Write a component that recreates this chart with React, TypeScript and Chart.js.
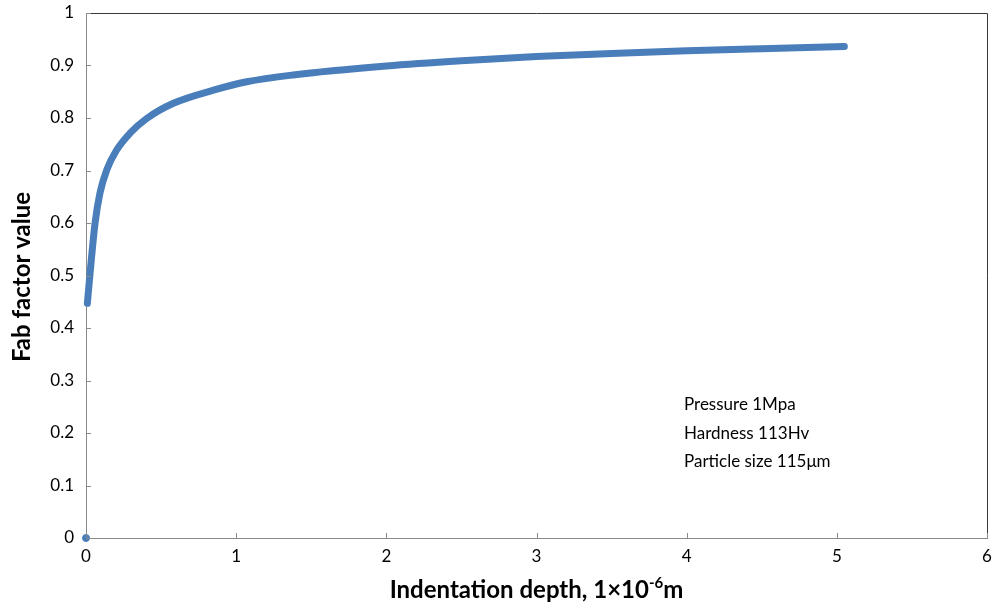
import React, { useEffect, useRef } from 'react';
import { Chart, registerables } from 'chart.js';
Chart.register(...registerables);

const depthValues = [0.009, 0.027, 0.06, 0.093, 0.138, 0.204, 0.293, 0.404, 0.582, 0.849, 1.07, 1.38, 2.0, 2.5, 3.0, 3.5, 4.0, 4.5, 5.05];
const fabValues = [0.447, 0.504, 0.599, 0.657, 0.701, 0.739, 0.771, 0.799, 0.828, 0.853, 0.869, 0.882, 0.899, 0.909, 0.917, 0.923, 0.928, 0.932, 0.936];
const originDepth = [0];
const originFab = [0];
const xTickValues = [0, 1, 2, 3, 4, 5, 6];
const yTickValues = [0, 0.1, 0.2, 0.3, 0.4, 0.5, 0.6, 0.7, 0.8, 0.9, 1];
const noteLines = ['Pressure 1Mpa', 'Hardness 113Hv', 'Particle size 115μm'];
const yTitle = 'Fab factor value';
const xTitleMain = 'Indentation depth, 1×10';
const xTitleSup = '-6';
const xTitleEnd = 'm';

const FONT = 'Lato, "Open Sans", sans-serif';

const decorPlugin = {
  id: 'decor',
  afterDraw(chart: any) {
    const { ctx, chartArea: a, scales } = chart;
    const xs = scales.x, ys = scales.y;
    ctx.save();
    ctx.strokeStyle = '#3a3a3a';
    ctx.lineWidth = 1;
    ctx.beginPath();
    ctx.moveTo(a.left, a.top + 0.5);
    ctx.lineTo(a.right + 0.5, a.top + 0.5);
    ctx.lineTo(a.right + 0.5, a.bottom);
    ctx.stroke();
    ctx.strokeStyle = '#8a8a8a';
    ctx.beginPath();
    xTickValues.forEach((v) => {
      const px = Math.round(xs.getPixelForValue(v)) + 0.5;
      ctx.moveTo(px, a.bottom);
      ctx.lineTo(px, a.bottom - 5);
    });
    yTickValues.forEach((v) => {
      const py = Math.round(ys.getPixelForValue(v)) + 0.5;
      ctx.moveTo(a.left, py);
      ctx.lineTo(a.left + 5, py);
    });
    ctx.stroke();
    ctx.fillStyle = '#000';
    ctx.font = `bold 24px ${FONT}`;
    ctx.textAlign = 'center';
    ctx.textBaseline = 'middle';
    ctx.save();
    ctx.translate(22, 277);
    ctx.rotate(-Math.PI / 2);
    ctx.fillText(yTitle, 0, 0);
    ctx.restore();
    ctx.textAlign = 'left';
    ctx.textBaseline = 'alphabetic';
    ctx.font = `bold 24px ${FONT}`;
    const w1 = ctx.measureText(xTitleMain).width;
    const w3 = ctx.measureText(xTitleEnd).width;
    ctx.font = `bold 15px ${FONT}`;
    const w2 = ctx.measureText(xTitleSup).width;
    const total = w1 + w2 + w3;
    const x0 = (a.left + a.right) / 2 - total / 2;
    const base = 598;
    ctx.font = `bold 24px ${FONT}`;
    ctx.fillText(xTitleMain, x0, base);
    ctx.font = `bold 15px ${FONT}`;
    ctx.fillText(xTitleSup, x0 + w1, base - 10);
    ctx.font = `bold 24px ${FONT}`;
    ctx.fillText(xTitleEnd, x0 + w1 + w2, base);
    ctx.font = `17px ${FONT}`;
    ctx.textBaseline = 'middle';
    noteLines.forEach((t, i) => {
      ctx.fillText(t, 684, 405 + i * 28.5);
    });
    ctx.restore();
  },
};

export default function App() {
  const ref = useRef<HTMLCanvasElement>(null);
  useEffect(() => {
    if (!ref.current) return;
    const curve = depthValues.map((x, i) => ({ x, y: fabValues[i] }));
    const origin = originDepth.map((x, i) => ({ x, y: originFab[i] }));
    const chart = new Chart(ref.current, {
      type: 'scatter',
      data: {
        datasets: [
          {
            data: curve,
            showLine: true,
            borderColor: '#4a7ebb',
            backgroundColor: '#4a7ebb',
            borderWidth: 7,
            borderCapStyle: 'round',
            borderJoinStyle: 'round',
            cubicInterpolationMode: 'monotone',
            pointRadius: 0,
            clip: false,
          },
          {
            data: origin,
            showLine: false,
            borderColor: '#4a7ebb',
            backgroundColor: '#4a7ebb',
            pointRadius: 3.5,
            pointBorderWidth: 1,
            clip: false,
          },
        ],
      },
      plugins: [decorPlugin],
      options: {
        animation: false,
        responsive: true,
        maintainAspectRatio: false,
        layout: { padding: { top: 13, right: 16, left: 0, bottom: 0 } },
        plugins: { legend: { display: false }, tooltip: { enabled: false } },
        scales: {
          x: {
            type: 'linear',
            min: 0,
            max: 6,
            afterFit: (s: any) => { s.height = 68; s.paddingLeft = 0; s.paddingRight = 0; },
            afterBuildTicks: (s: any) => { s.ticks = xTickValues.map((v) => ({ value: v })); },
            ticks: { color: '#000', font: { family: FONT, size: 17 }, padding: 8, maxRotation: 0 },
            grid: { display: false, drawTicks: false },
            border: { color: '#8a8a8a', width: 1 },
          },
          y: {
            type: 'linear',
            min: 0,
            max: 1,
            afterFit: (s: any) => { s.width = 86; s.paddingTop = 0; s.paddingBottom = 0; },
            afterBuildTicks: (s: any) => { s.ticks = yTickValues.map((v) => ({ value: v })); },
            ticks: { color: '#000', font: { family: FONT, size: 17 }, padding: 12, callback: (v: any) => String(Math.round(v * 10) / 10) },
            grid: { display: false, drawTicks: false },
            border: { color: '#8a8a8a', width: 1 },
          },
        },
      },
    });
    return () => chart.destroy();
  }, []);
  return (
    <div style={{ position: 'fixed', left: 0, top: 0, width: 1003, height: 606, background: '#fff' }}>
      <canvas ref={ref} />
    </div>
  );
}
